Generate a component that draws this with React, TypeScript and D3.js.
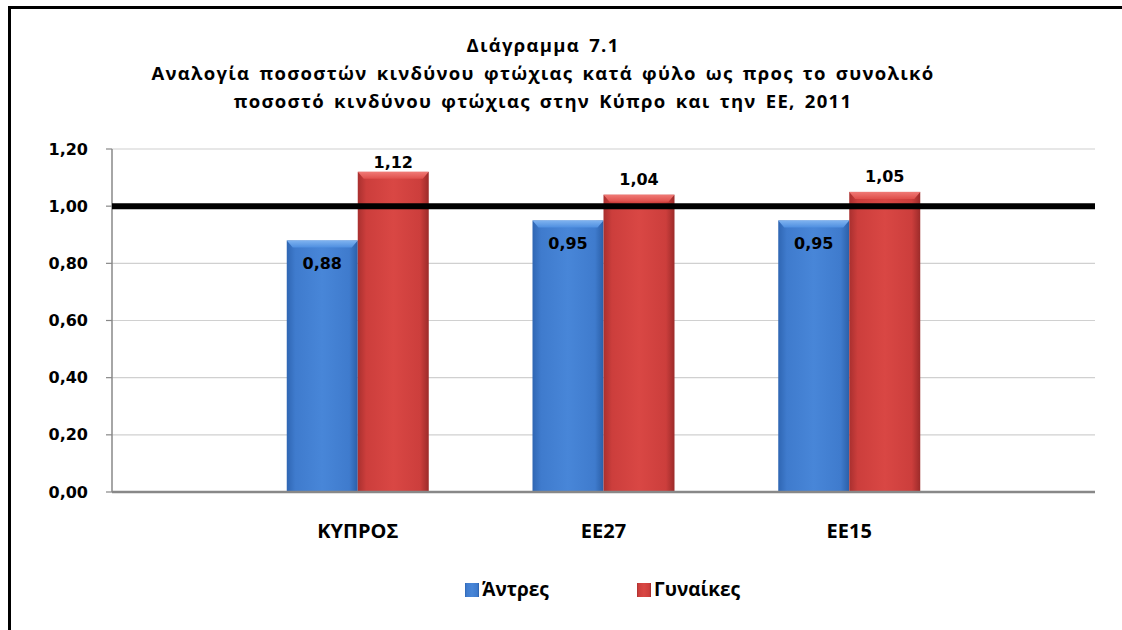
import React from "react";
import * as d3 from "d3";

const categories = ["ΚΥΠΡΟΣ", "ΕΕ27", "ΕΕ15"];
const seriesNames = ["Άντρες", "Γυναίκες"];
const men = [0.88, 0.95, 0.95];
const women = [1.12, 1.04, 1.05];
const yTicks = [0, 0.2, 0.4, 0.6, 0.8, 1.0, 1.2];
const referenceValue = 1.0;
const titleLines = [
  "Διάγραμμα 7.1",
  "Αναλογία ποσοστών κινδύνου φτώχιας κατά φύλο ως προς το συνολικό",
  "ποσοστό κινδύνου φτώχιας στην Κύπρο και την ΕΕ, 2011",
];

const W = 1122;
const H = 630;
const plot = { left: 112, right: 1095, top: 149, bottom: 492 };
const fmt = (v: number) => v.toFixed(2).replace(".", ",");

export default function App() {
  const y = d3.scaleLinear().domain([0, 1.2]).range([plot.bottom, plot.top]);
  const x = d3
    .scaleLinear()
    .domain([0, categories.length + 1])
    .range([plot.left, plot.right]);
  const barW = 71;
  const series = [
    { name: seriesNames[0], values: men, grad: "gBlue", top: "gBlueTop" },
    { name: seriesNames[1], values: women, grad: "gRed", top: "gRedTop" },
  ];
  const labelFont = "'DejaVu Sans', Verdana, sans-serif";
  const textFont = "'Open Sans', 'Liberation Sans', sans-serif";

  return (
    <svg
      width={W}
      height={H}
      style={{ position: "absolute", left: 0, top: 0, background: "#fff" }}
    >
      <defs>
        <linearGradient id="gBlue" x1="0" x2="1" y1="0" y2="0">
          <stop offset="0" stopColor="#2f66b3" />
          <stop offset="0.12" stopColor="#3f7bcd" />
          <stop offset="0.5" stopColor="#4886d8" />
          <stop offset="0.88" stopColor="#3f7bcd" />
          <stop offset="1" stopColor="#2b5fa8" />
        </linearGradient>
        <linearGradient id="gRed" x1="0" x2="1" y1="0" y2="0">
          <stop offset="0" stopColor="#a9302f" />
          <stop offset="0.12" stopColor="#cc3e3c" />
          <stop offset="0.5" stopColor="#d94744" />
          <stop offset="0.88" stopColor="#cc3e3c" />
          <stop offset="1" stopColor="#9c2b2a" />
        </linearGradient>
        <linearGradient id="gBlueTop" x1="0" x2="0" y1="0" y2="1">
          <stop offset="0" stopColor="#7fb3f0" />
          <stop offset="1" stopColor="#4f8fe0" />
        </linearGradient>
        <linearGradient id="gRedTop" x1="0" x2="0" y1="0" y2="1">
          <stop offset="0" stopColor="#f07a76" />
          <stop offset="1" stopColor="#df4f4b" />
        </linearGradient>
      </defs>

      {/* outer frame */}
      <line x1={9.5} y1={7.5} x2={W} y2={7.5} stroke="#000" strokeWidth={3} />
      <line x1={9.5} y1={6} x2={9.5} y2={H} stroke="#000" strokeWidth={3} />

      {/* title */}
      {titleLines.map((t, i) => (
        <text
          key={i}
          x={543}
          y={52 + i * 28}
          textAnchor="middle"
          fontFamily={textFont}
          fontWeight="bold"
          fontSize={18.5}
          letterSpacing={1.3}
          wordSpacing={3}
          fill="#000"
        >
          {t}
        </text>
      ))}

      {/* gridlines */}
      {yTicks.map((t) =>
        t === 0 ? null : (
          <line
            key={t}
            x1={plot.left}
            x2={plot.right}
            y1={y(t)}
            y2={y(t)}
            stroke="#d0d0d0"
            strokeWidth={1.2}
          />
        )
      )}

      {/* y axis */}
      <line x1={plot.left} x2={plot.left} y1={plot.top} y2={plot.bottom} stroke="#888" strokeWidth={1.5} />
      {yTicks.map((t) => (
        <g key={"t" + t}>
          <line x1={plot.left - 6} x2={plot.left} y1={y(t)} y2={y(t)} stroke="#888" strokeWidth={1.2} />
          <text
            x={88}
            y={y(t)}
            dy="0.35em"
            textAnchor="end"
            fontFamily={labelFont}
            fontWeight="bold"
            fontSize={16}
            fill="#000"
          >
            {fmt(t)}
          </text>
        </g>
      ))}

      {/* bars */}
      {categories.map((c, i) => {
        const cx = x(i + 1);
        return (
          <g key={c}>
            {series.map((s, j) => {
              const v = s.values[i];
              const bx = cx - barW + j * barW;
              const top = y(v);
              const h = plot.bottom - top;
              return (
                <g key={s.name}>
                  <rect x={bx} y={top} width={barW} height={h} fill={`url(#${s.grad})`} />
                  <path
                    d={`M${bx},${top} L${bx + barW},${top} L${bx + barW - 6},${top + 7} L${bx + 6},${top + 7} Z`}
                    fill={`url(#${s.top})`}
                  />
                </g>
              );
            })}
          </g>
        );
      })}

      {/* reference line at 1.00 */}
      <line
        x1={plot.left}
        x2={plot.right}
        y1={y(referenceValue)}
        y2={y(referenceValue)}
        stroke="#000"
        strokeWidth={6}
      />

      {/* x axis */}
      <line x1={plot.left} x2={plot.right} y1={plot.bottom} y2={plot.bottom} stroke="#888" strokeWidth={2.5} />

      {/* data labels */}
      {categories.map((c, i) => {
        const cx = x(i + 1);
        return (
          <g key={"l" + c}>
            <text
              x={cx - barW / 2}
              y={y(men[i]) + 23}
              dy="0.35em"
              textAnchor="middle"
              fontFamily={labelFont}
              fontWeight="bold"
              fontSize={16}
              fill="#000"
            >
              {fmt(men[i])}
            </text>
            <text
              x={cx + barW / 2}
              y={Math.max(y(women[i]) - 10, plot.top + 19)}
              textAnchor="middle"
              fontFamily={labelFont}
              fontWeight="bold"
              fontSize={16}
              fill="#000"
            >
              {fmt(women[i])}
            </text>
          </g>
        );
      })}

      {/* category labels */}
      {categories.map((c, i) => (
        <text
          key={"c" + c}
          x={x(i + 1)}
          y={531}
          dy="0.35em"
          textAnchor="middle"
          fontFamily={textFont}
          fontWeight="bold"
          fontSize={20}
          fill="#000"
        >
          {c}
        </text>
      ))}

      {/* legend */}
      {series.map((s, j) => {
        const lx = j === 0 ? 465 : 637;
        return (
          <g key={"lg" + s.name}>
            <rect x={lx} y={583} width={14} height={14} fill={`url(#${s.grad})`} />
            <text
              x={lx + 17}
              y={589}
              dy="0.35em"
              fontFamily={textFont}
              fontWeight="bold"
              fontSize={19}
              fill="#000"
            >
              {s.name}
            </text>
          </g>
        );
      })}
    </svg>
  );
}
